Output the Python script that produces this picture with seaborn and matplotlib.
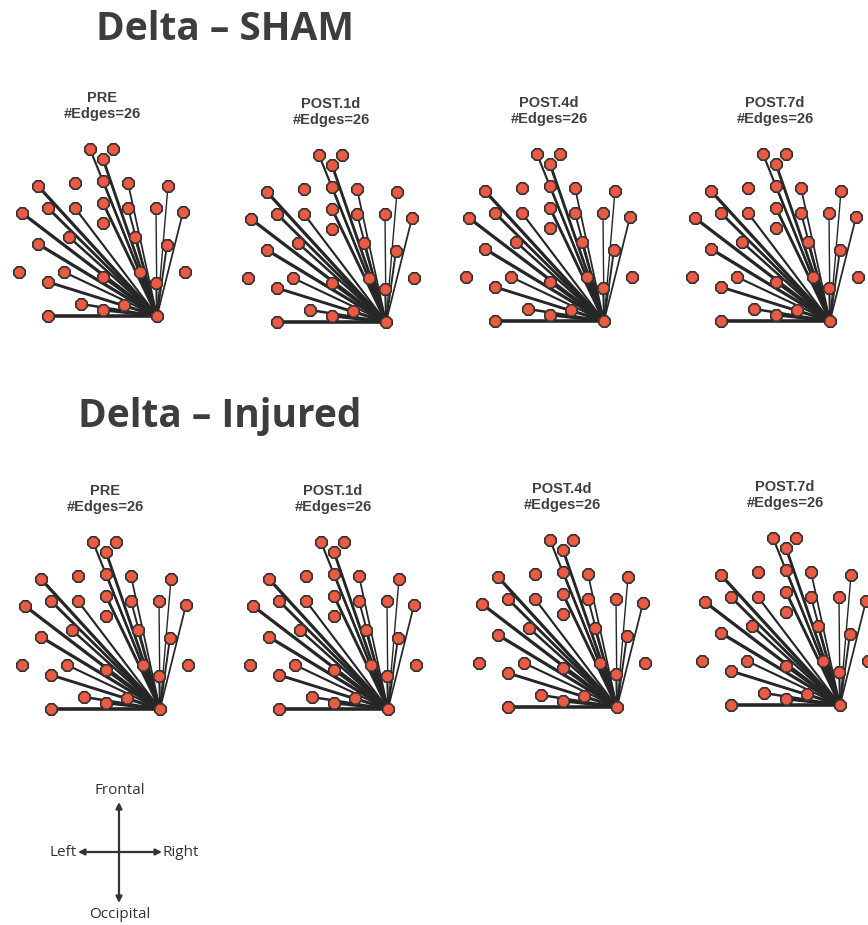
import numpy as np
import pandas as pd
import matplotlib
matplotlib.use("Agg")
import matplotlib.pyplot as plt
import seaborn as sns

sns.set_theme(style="white")
plt.rcParams["font.family"] = ["Liberation Sans", "DejaVu Sans"]

# Electrode layout (x: left -> right, y: occipital -> frontal), hub electrode at the origin
NODE_X = [-67, -44, -54, -119, -82, -54, -29, 11, -135, -109, -82, -54, -29, -1, 26, -54,
          -88, -119, -22, 10, -138, -93, -54, -17, 28, -109, -1, -76, -54, -33, -109, 0]
NODE_Y = [167, 167, 157, 130, 133, 135, 133, 130, 103, 108, 108, 113, 108, 108, 104, 93,
          79, 72, 79, 71, 44, 44, 39, 44, 44, 34, 33, 12, 6, 11, 0, 0]
HUB = 31

# Significant delta-band connections from the hub electrode and their strengths
EDGE_TARGETS = [0, 2, 3, 5, 6, 7, 8, 9, 10, 11, 12, 13, 14,
                16, 17, 18, 19, 21, 22, 23, 25, 26, 27, 28, 29, 30]
EDGE_WEIGHT = [1.4, 1.8, 2.0, 1.6, 1.2, 1.0, 2.0, 1.8, 1.4, 1.8, 1.3, 1.0, 1.2,
               1.6, 2.0, 1.6, 1.3, 1.4, 1.8, 1.4, 1.8, 1.2, 1.6, 1.8, 1.4, 2.2]

CONDITIONS = ["PRE", "POST.1d", "POST.4d", "POST.7d"]
SHAM_EDGES = [26, 26, 26, 26]
INJURED_EDGES = [26, 26, 26, 26]
GROUPS = ["Delta \u2013 SHAM", "Delta \u2013 Injured"]

# Hub electrode location of each panel on the page (pixels from top-left)
SHAM_HUBS = [(157, 316), (386, 322), (604, 321), (830, 321)]
INJURED_HUBS = [(160, 709), (388, 709), (617, 707), (840, 705)]

W, H = 868, 925
NODE_COLOR = "#EC5A41"
EDGE_COLOR = "#262626"

fig = plt.figure(figsize=(W / 100, H / 100), dpi=100)
fig.patch.set_facecolor("white")

# Page-level axes in pixel units for headers and the orientation key
page = fig.add_axes([0, 0, 1, 1])
page.set_xlim(0, W)
page.set_ylim(H, 0)
page.axis("off")

edge_rows = []
for k, (t, w) in enumerate(zip(EDGE_TARGETS, EDGE_WEIGHT)):
    edge_rows.append({"edge": k, "x": NODE_X[HUB], "y": NODE_Y[HUB], "w": w})
    edge_rows.append({"edge": k, "x": NODE_X[t], "y": NODE_Y[t], "w": w})
edges = pd.DataFrame(edge_rows)
nodes = pd.DataFrame({"x": NODE_X, "y": NODE_Y})

XL, XR, YB, YT = -150, 45, -12, 235


def draw_panel(hub, cond, n_edges):
    hx, hy = hub
    rect = [(hx + XL) / W, (H - (hy - YB)) / H, (XR - XL) / W, (YT - YB) / H]
    ax = fig.add_axes(rect)
    ax.set_xlim(XL, XR)
    ax.set_ylim(YB, YT)
    ax.set_aspect("equal", adjustable="box")
    sns.lineplot(data=edges, x="x", y="y", units="edge", estimator=None, sort=False,
                 size="w", sizes=(1.0, 2.6), color=EDGE_COLOR, legend=False, ax=ax,
                 zorder=2)
    sns.scatterplot(data=nodes, x="x", y="y", s=78, marker="8", color=NODE_COLOR,
                    edgecolor="#333333", linewidth=1.2, legend=False, ax=ax, zorder=3,
                    clip_on=False)
    ax.text(-55, 210, f"{cond}\n#Edges={n_edges}", ha="center", va="center",
            fontsize=10.5, fontweight="bold", color="#404040", linespacing=1.25)
    ax.axis("off")


for hub, cond, n in zip(SHAM_HUBS, CONDITIONS, SHAM_EDGES):
    draw_panel(hub, cond, n)
for hub, cond, n in zip(INJURED_HUBS, CONDITIONS, INJURED_EDGES):
    draw_panel(hub, cond, n)

header_kw = dict(fontsize=28, fontweight="bold", color="#3d3d3d", ha="center",
                 va="center", family=["Open Sans", "DejaVu Sans"])
page.text(225, 29, GROUPS[0], **header_kw)
page.text(220, 417, GROUPS[1], **header_kw)

# Orientation key
arrow_kw = dict(arrowstyle="<|-|>", color="#333333", lw=1.6, mutation_scale=9,
                shrinkA=0, shrinkB=0)
page.annotate("", xy=(119, 802), xytext=(119, 903), arrowprops=arrow_kw)
page.annotate("", xy=(78, 852), xytext=(162, 852), arrowprops=arrow_kw)
key_kw = dict(fontsize=11, color="#333333", family=["Open Sans", "DejaVu Sans"])
page.text(120, 791, "Frontal", ha="center", va="center", **key_kw)
page.text(120, 915, "Occipital", ha="center", va="center", **key_kw)
page.text(77, 852, "Left", ha="right", va="center", **key_kw)
page.text(163, 852, "Right", ha="left", va="center", **key_kw)

fig.savefig("out.png", dpi=100, facecolor="white")
